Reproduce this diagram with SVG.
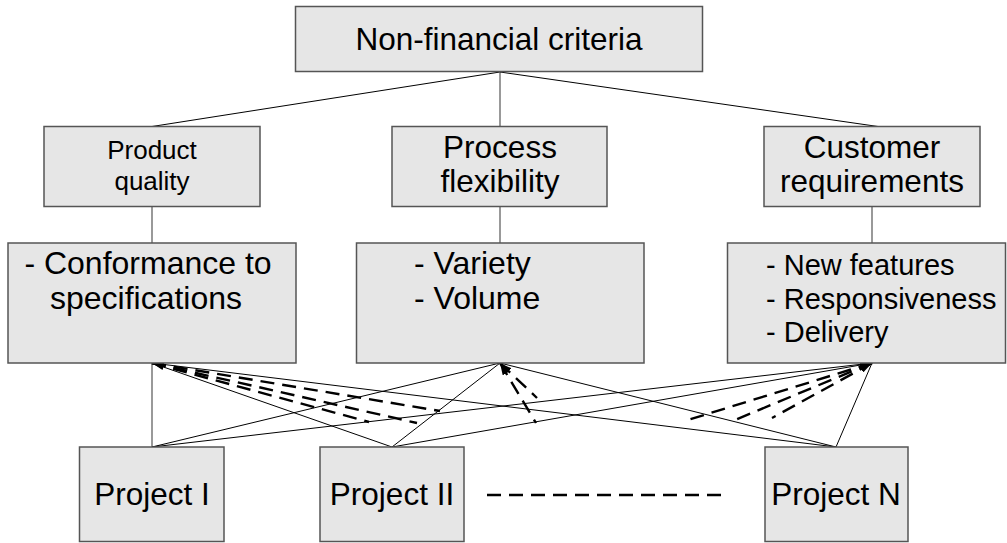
<svg xmlns="http://www.w3.org/2000/svg" width="1007" height="543" viewBox="0 0 1007 543">
  <style>
    .box { fill: #e6e6e6; stroke: #555555; stroke-width: 1.5; }
    .lbl { font-family: "Liberation Sans", Arial, sans-serif; fill: #000000; }
    .big { font-size: 31.5px; }
    .mid { font-size: 26px; }
    .lst { font-size: 32px; }
    .sml { font-size: 29px; }
    .link { stroke: #000000; stroke-width: 1; fill: none; }
    .stem { stroke: #555555; stroke-width: 1.2; fill: none; }
    .dash { stroke: #000000; stroke-width: 2.4; fill: none; stroke-dasharray: 14 8; }
  </style>
  <defs>
    <marker id="head" viewBox="0 0 12 8" refX="0" refY="4" markerWidth="12" markerHeight="8" markerUnits="userSpaceOnUse" orient="auto">
      <path d="M0,4 L12,0 L12,8 Z" fill="#000000"/>
    </marker>
  </defs>

  <!-- connectors -->
  <g id="connectors">
    <!-- criteria tree -->
    <line class="link" x1="500" y1="72" x2="152" y2="126.5"/>
    <line class="stem" x1="500" y1="72" x2="500" y2="126.5"/>
    <line class="link" x1="500" y1="72" x2="878" y2="126.5"/>
    <line class="stem" x1="152" y1="206.5" x2="152" y2="243"/>
    <line class="stem" x1="500" y1="206.5" x2="500" y2="243"/>
    <line class="stem" x1="872" y1="206.5" x2="872" y2="243"/>

    <!-- sub-criteria to projects -->
    <line class="stem" x1="152" y1="363" x2="152" y2="447"/>
    <line class="link" x1="152" y1="363" x2="392" y2="447"/>
    <line class="link" x1="152" y1="363" x2="836" y2="447"/>
    <line class="link" x1="500" y1="363" x2="152" y2="447"/>
    <line class="link" x1="500" y1="363" x2="392" y2="447"/>
    <line class="link" x1="500" y1="363" x2="836" y2="447"/>
    <line class="link" x1="872" y1="363" x2="152" y2="447"/>
    <line class="link" x1="872" y1="363" x2="392" y2="447"/>
    <line class="link" x1="872" y1="363" x2="836" y2="447"/>

    <!-- dashed comparison arrows -->
    <line class="dash" x1="152" y1="363" x2="440" y2="411" marker-start="url(#head)"/>
    <line class="dash" x1="152" y1="363" x2="417" y2="423" marker-start="url(#head)"/>
    <line class="dash" x1="152" y1="363" x2="369" y2="422" marker-start="url(#head)"/>
    <line class="dash" x1="500" y1="363" x2="536" y2="423" marker-start="url(#head)"/>
    <line class="dash" x1="500" y1="363" x2="537" y2="398" marker-start="url(#head)"/>
    <line class="dash" x1="872" y1="363" x2="688" y2="420" marker-start="url(#head)"/>
    <line class="dash" x1="872" y1="363" x2="730" y2="422" marker-start="url(#head)"/>
    <line class="dash" x1="872" y1="363" x2="772" y2="418" marker-start="url(#head)"/>

    <!-- ellipsis between projects -->
    <line class="dash" x1="487" y1="495" x2="729" y2="495"/>
  </g>

  <g id="n-criteria">
    <rect class="box" x="295.5" y="6.5" width="407" height="65"/>
    <text class="lbl big" x="499" y="50" text-anchor="middle">Non-financial criteria</text>
  </g>

  <g id="n-quality">
    <rect class="box" x="44" y="126.5" width="216" height="80"/>
    <text class="lbl mid" x="152" y="159" text-anchor="middle">Product</text>
    <text class="lbl mid" x="152" y="190" text-anchor="middle">quality</text>
  </g>

  <g id="n-flexibility">
    <rect class="box" x="392" y="126.5" width="215" height="80"/>
    <text class="lbl big" x="500" y="157.5" text-anchor="middle">Process</text>
    <text class="lbl big" x="500" y="191.5" text-anchor="middle">flexibility</text>
  </g>

  <g id="n-customer">
    <rect class="box" x="764" y="126.5" width="216" height="80"/>
    <text class="lbl big" x="872" y="157.5" text-anchor="middle">Customer</text>
    <text class="lbl big" x="872" y="191.5" text-anchor="middle">requirements</text>
  </g>

  <g id="n-quality-items">
    <rect class="box" x="8" y="243" width="288" height="120"/>
    <text class="lbl lst" x="148" y="274" text-anchor="middle">- Conformance to</text>
    <text class="lbl lst" x="146" y="309" text-anchor="middle">specifications</text>
  </g>

  <g id="n-flexibility-items">
    <rect class="box" x="356.5" y="243" width="287.5" height="120"/>
    <text class="lbl lst" x="414" y="274">- Variety</text>
    <text class="lbl lst" x="414" y="309">- Volume</text>
  </g>

  <g id="n-customer-items">
    <rect class="box" x="727.5" y="243" width="278" height="120"/>
    <text class="lbl sml" x="766" y="275">- New features</text>
    <text class="lbl sml" x="766" y="308.5">- Responsiveness</text>
    <text class="lbl sml" x="766" y="342">- Delivery</text>
  </g>

  <g id="n-project-1">
    <rect class="box" x="79.5" y="447" width="144.5" height="94.5"/>
    <text class="lbl big" x="152" y="505" text-anchor="middle">Project I</text>
  </g>

  <g id="n-project-2">
    <rect class="box" x="320" y="447" width="144" height="94.5"/>
    <text class="lbl big" x="392" y="505" text-anchor="middle">Project II</text>
  </g>

  <g id="n-project-n">
    <rect class="box" x="765" y="447" width="143" height="94.5"/>
    <text class="lbl big" x="836" y="505" text-anchor="middle">Project N</text>
  </g>
</svg>
